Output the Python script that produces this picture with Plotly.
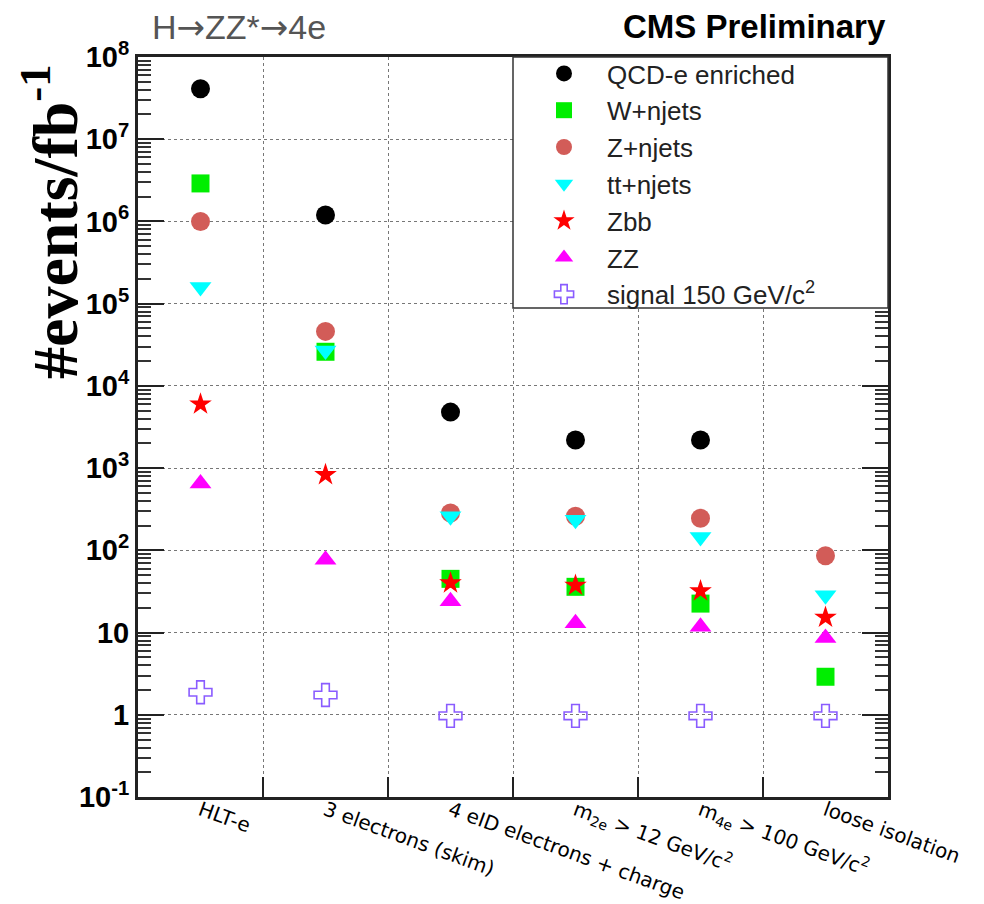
import plotly.graph_objects as go

# selection steps (x categories)
steps = [
    "HLT-e",
    "3 electrons (skim)",
    "4 eID electrons + charge",
    "m<sub>2e</sub> > 12 GeV/c<sup>2</sup>",
    "m<sub>4e</sub> > 100 GeV/c<sup>2</sup>",
    "loose isolation",
]

# events / fb^-1 after each step
qcd = [4.1e7, 1.2e6, 4.8e3, 2.2e3, 2.2e3, None]
wjets = [2.9e6, 2.6e4, 45, 36, 22.5, 2.9]
zjets = [1.0e6, 4.6e4, 285, 260, 245, 86]
ttjets = [1.6e5, 2.7e4, 260, 235, 145, 28.5]
zbb = [6.0e3, 830, 40, 37.5, 32, 15.3]
zz = [650, 77, 24, 13, 11.8, 8.6]
signal = [1.88, 1.74, 0.97, 0.97, 0.97, 0.97]

ytick_vals = [0.1, 1, 10, 100, 1e3, 1e4, 1e5, 1e6, 1e7, 1e8]
ytick_text = ["10<sup>-1</sup>", "1", "10", "10<sup>2</sup>", "10<sup>3</sup>",
              "10<sup>4</sup>", "10<sup>5</sup>", "10<sup>6</sup>",
              "10<sup>7</sup>", "10<sup>8</sup>"]

# minor tick positions 2..9 x 10^n
minor_vals = [m * 10.0 ** e for e in range(-1, 8) for m in range(2, 10)]

series = [
    ("QCD-e enriched", qcd, "circle", "black", 19),
    ("W+njets", wjets, "square", "#00ee00", 18),
    ("Z+njets", zjets, "circle", "#d25c58", 19),
    ("tt+njets", ttjets, "triangle-down", "#00ffff", 19),
    ("Zbb", zbb, "star", "#ff0000", 17),
    ("ZZ", zz, "triangle-up", "#ff00ff", 19),
]

fig = go.Figure()
for name, vals, sym, col, size in series:
    fig.add_trace(go.Scatter(
        x=steps, y=vals, name=name, mode="markers",
        marker=dict(symbol=sym, color=col, size=size, line=dict(width=0)),
    ))
fig.add_trace(go.Scatter(
    x=steps, y=signal, name="signal 150 GeV/c<sup>2</sup>", mode="markers",
    marker=dict(symbol="cross-open", color="#8a5cff", size=19,
                line=dict(width=1.6, color="#8a5cff")),
))

# opaque legend frame
fig.add_shape(type="rect", xref="paper", yref="paper",
              x0=0.5, x1=1.0, y0=(797 - 308) / 740, y1=1.0,
              fillcolor="white", line=dict(color="#333", width=1.5),
              layer="above")

arrow = "<span style=\"font-family:'DejaVu Sans'\">→</span>"
fig.add_annotation(text="H" + arrow + "ZZ*" + arrow + "4e", xref="paper", yref="paper",
                   x=(150 - 138) / 750, y=1.0, xanchor="left", yanchor="bottom",
                   yshift=8, showarrow=False,
                   font=dict(family="Liberation Sans", size=34, color="#555"))
fig.add_annotation(text="<b>CMS Preliminary</b>", xref="paper", yref="paper",
                   x=1.0, y=1.0, xanchor="right", yanchor="bottom",
                   yshift=10, showarrow=False,
                   font=dict(family="Liberation Sans", size=33, color="black"))
fig.add_annotation(text="<b>#events/fb<sup>-1</sup></b>", xref="paper", yref="paper",
                   x=(50 - 138) / 750, y=1 - (222 - 57) / 740, textangle=-90,
                   xanchor="center", yanchor="middle", showarrow=False,
                   font=dict(family="Liberation Serif", size=64, color="black"))

fig.update_xaxes(
    type="category", tickson="boundaries", range=[-0.5, 5.5],
    ticks="inside", ticklen=20, tickwidth=2, tickcolor="#222",
    tickangle=20, tickfont=dict(family="DejaVu Sans", size=20, color="black"),
    ticklabelstandoff=-9,
    showgrid=True, gridcolor="#777", griddash="dot", gridwidth=1.2,
    showline=True, linecolor="#222", linewidth=3, mirror=True,
    automargin=False,
)
fig.update_yaxes(
    type="log", range=[-1, 8],
    tickmode="array", tickvals=ytick_vals, ticktext=ytick_text,
    ticks="inside", ticklen=26, tickwidth=2, tickcolor="#222",
    tickfont=dict(family="Liberation Sans", size=29, color="black", weight="bold"),
    minor=dict(ticks="inside", ticklen=13, tickwidth=2, tickcolor="#333",
               tickmode="array", tickvals=minor_vals, showgrid=False),
    showgrid=True, gridcolor="#777", griddash="dot", gridwidth=1.2,
    showline=True, linecolor="#222", linewidth=3, mirror="allticks",
    automargin=False,
)

# the page body adds 8px around the figure, so margins are shifted by 8
fig.update_layout(
    width=984, height=904,
    margin=dict(l=130, r=104, t=49, b=115),
    plot_bgcolor="white", paper_bgcolor="white",
    font=dict(family="Liberation Sans"),
    legend=dict(
        x=0.5 + 8 / 750, y=1.0 + 7 / 740, xanchor="left", yanchor="top",
        bgcolor="rgba(0,0,0,0)", borderwidth=0,
        font=dict(family="Liberation Sans", size=26, color="#222"),
        itemwidth=76, tracegroupgap=0,
    ),
)

fig.write_html("out.html")
